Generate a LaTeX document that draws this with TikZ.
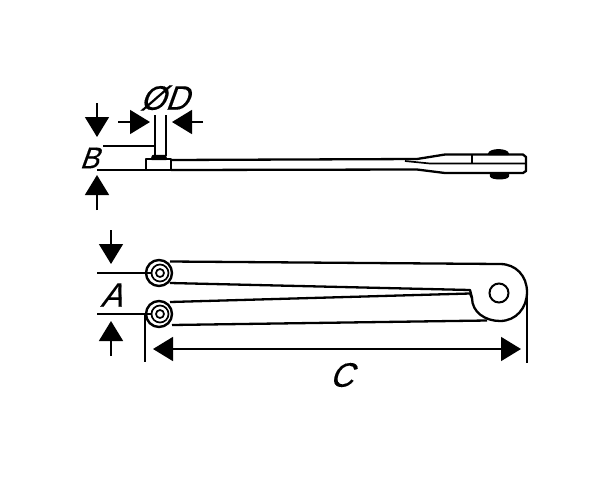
\documentclass[tikz,border=0pt]{standalone}
\usepackage{fontspec}
\setmainfont{Liberation Sans}
\newfontfamily\dimfont[FakeSlant=0.36,FakeStretch=0.95,FakeBold=0.3]{Liberation Sans}
\usetikzlibrary{arrows.meta,positioning}
\tikzset{outline/.style={draw,line width=2.3pt,line join=round}}
\tikzset{thin line/.style={draw,line width=1.7pt}}
\tikzset{dim/.style={draw,line width=1.6pt,-{Triangle[length=20pt,width=24pt]},shorten >=0pt}}
\tikzset{label/.style={inner sep=0pt,font=\dimfont\fontsize{34}{34}\selectfont}}
\tikzset{ring/.style={circle,draw,inner sep=0pt}}
\begin{document}
\begin{tikzpicture}[x=1pt,y=-1pt]
    \useasboundingbox (0,0) rectangle (600,480);
    % side view
    \path[outline] (146,159) rectangle (171,170);
    \path[outline] (171,160) -- (417,159) -- (445,154.5) -- (523,154.5) -- (526,157) -- (526,171) -- (523,173) -- (445,173) -- (417,169.5) -- (171,170);
    \path[thin line] (405,161) -- (430,163.5) -- (526,163.5);
    \path[thin line] (472,155) -- (472,163);
    \path[outline,fill=black] (489,154) .. controls (490,149) and (507,149) .. (508,154) -- cycle;
    \path[outline,fill=black] (491,174) -- (491,176) .. controls (492,179) and (507,179) .. (508,176) -- (508,174) -- cycle;
    \path[outline,fill=black] (152,159) -- (153,156) -- (165,156) -- (166,159) -- cycle;
    \path[thin line] (155,115) -- (155,156);
    \path[thin line] (166,115) -- (166,156);
    % top view
    \path[outline] (170,261.5) -- (500,264) .. controls (516,264) and (527,276) .. (527,292) .. controls (527,308) and (516,321) .. (500,321) .. controls (485,321) and (472,312) .. (472,298) -- (470,290) -- (170,283);
    \path[outline] (170,302) -- (470,293.5) -- (472,298);
    \path[outline] (172,325) -- (487,320.5);
    \node[ring,line width=2pt,minimum size=19pt] (hole) at (499,293) {};
    \foreach \name/\ypos in {top/273,bot/314} {
        \node[ring,line width=2.4pt,fill=white,minimum size=26pt] (\name o) at (159,\ypos) {};
        \node[ring,line width=1.7pt,minimum size=17pt] (\name m) at (160,\ypos) {};
        \node[ring,line width=1.7pt,minimum size=8pt] (\name i) at (160,\ypos) {};
    }
    % dimensions
    \coordinate (bt) at (155,146);
    \coordinate (bb) at (146,170);
    \coordinate (b1) at (103,146);
    \coordinate (b2) at (97,170);
    \path[thin line] (b1) -- (bt);
    \path[thin line] (b2) -- (bb);
    \coordinate (a1) at (97,273);
    \coordinate (a2) at (97,314);
    \path[thin line] (a1) -- (topm.west);
    \path[thin line] (a2) -- (botm.west);
    \coordinate (cl) at (145,314);
    \coordinate (cl2) at (145,362);
    \coordinate (cr) at (527,292);
    \coordinate (cr2) at (527,363);
    \path[thin line] (cl) -- (cl2);
    \path[thin line] (cr) -- (cr2);

    \coordinate (s1) at (97,103);
    \coordinate (e1) at (97,137);
    \coordinate (s2) at (97,210);
    \coordinate (e2) at (97,175);
    \coordinate (s3) at (118,122);
    \coordinate (e3) at (150,122);
    \coordinate (s4) at (203,122);
    \coordinate (e4) at (172,122);
    \coordinate (s5) at (111,230);
    \coordinate (e5) at (111,264);
    \coordinate (s6) at (111,356);
    \coordinate (e6) at (111,321);
    \coordinate (s7) at (336,349);
    \coordinate (e7) at (153,349);
    \coordinate (e8) at (521,349);
    \path[dim] (s1) -- (e1);
    \path[dim] (s2) -- (e2);
    \path[dim] (s3) -- (e3);
    \path[dim] (s4) -- (e4);
    \path[dim] (s5) -- (e5);
    \path[dim] (s6) -- (e6);
    \path[dim] (s7) -- (e7);
    \path[dim] (s7) -- (e8);

    \node[label,font=\dimfont\fontsize{30}{30}\selectfont] (lblb) at (89,158) {B};
    \node[label] (lbla) at (111,295) {A};
    \node[label] (lbld) at (164,98) {ØD};
    \node[label] (lblc) at (341,375) {C};
\end{tikzpicture}
\end{document}
